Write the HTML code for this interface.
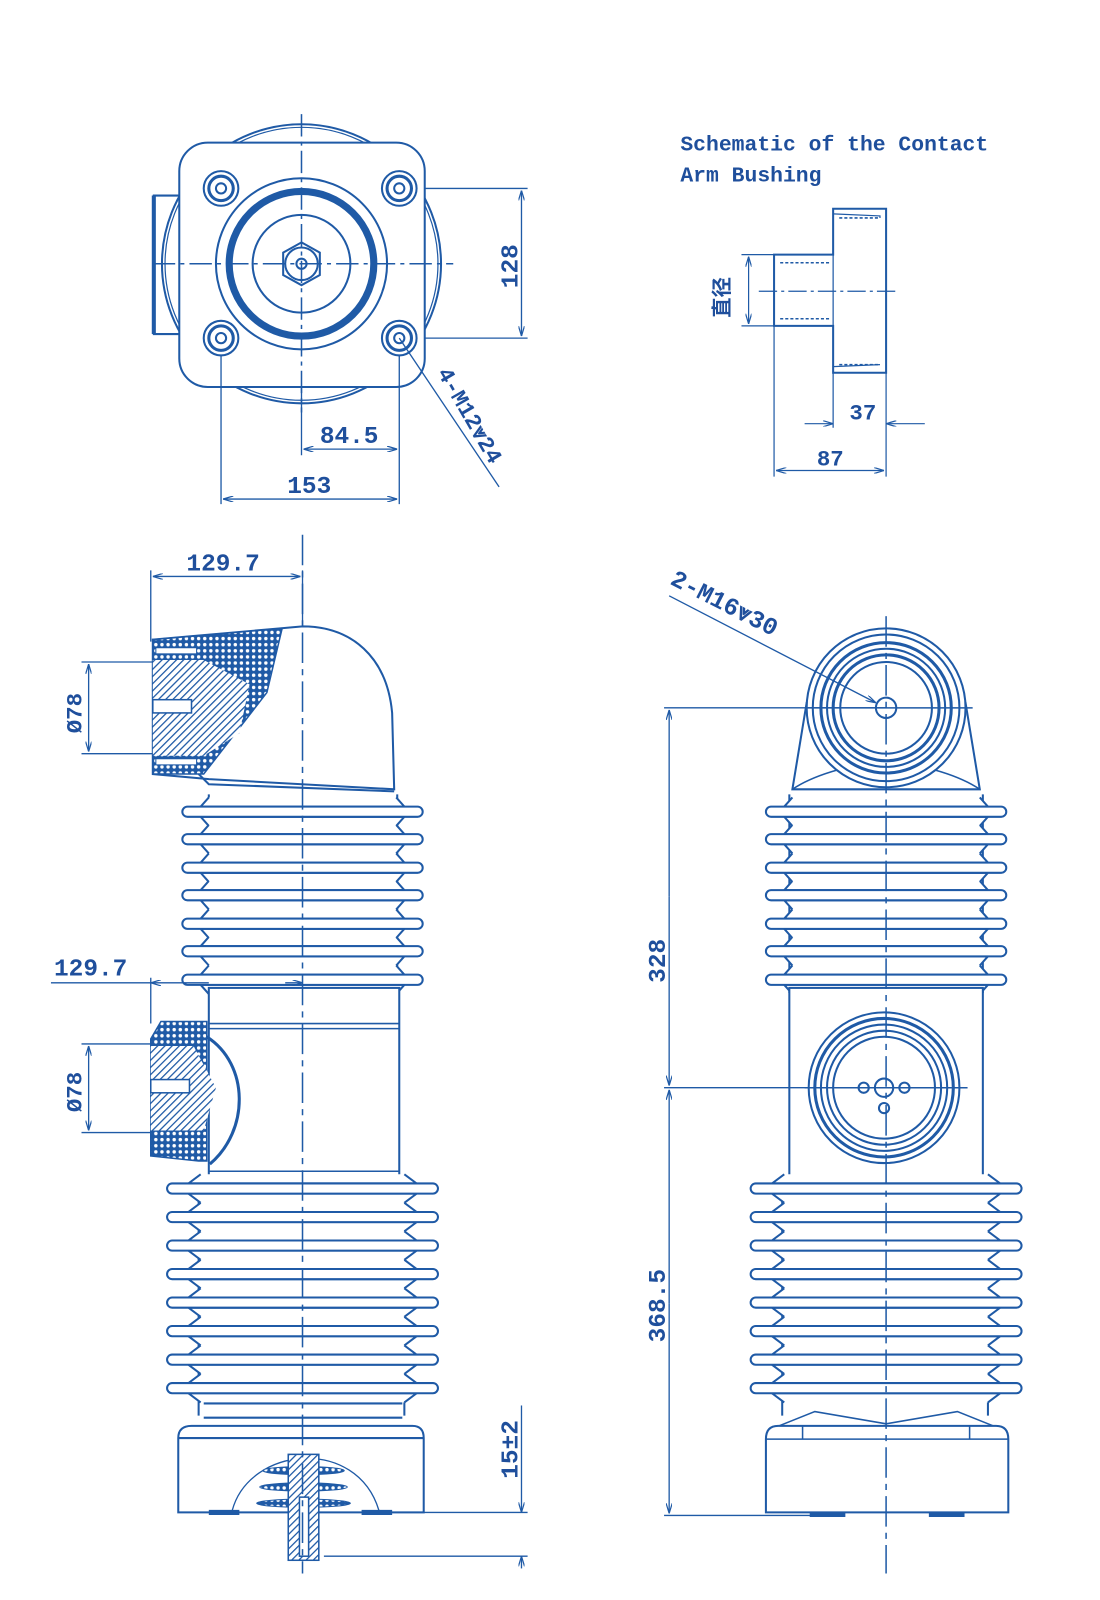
<!DOCTYPE html>
<html><head><meta charset="utf-8"><style>
html,body{margin:0;padding:0;background:#fff;}
svg{display:block}
text{font-family:"Liberation Mono","Liberation Sans",sans-serif;fill:#1f4f9c;font-weight:bold}
</style></head><body>
<svg width="1100" height="1600" viewBox="0 0 1080 1571" xmlns="http://www.w3.org/2000/svg">
<defs>
<pattern id="hat" width="5" height="5" patternUnits="userSpaceOnUse" patternTransform="rotate(45)"><rect width="5" height="5" fill="#fff"/><line x1="0" y1="0" x2="0" y2="5" stroke="#1f5aa6" stroke-width="2.5"/></pattern>
<pattern id="dot" width="6" height="6" patternUnits="userSpaceOnUse"><rect width="6" height="6" fill="#1f5aa6"/><circle cx="3" cy="3" r="1.7" fill="#fff"/></pattern>
<g id="shA" fill="#fff" stroke="#1f5aa6" stroke-width="2">
<path d="M-92,-14 L-100,-5 L100,-5 L92,-14 M-92,14 L-100,5 L100,5 L92,14"/>
<rect x="-118" y="-5" width="236" height="10" rx="5"/>
</g>
<g id="shB" fill="#fff" stroke="#1f5aa6" stroke-width="2">
<path d="M-100,-14 L-112,-5 L112,-5 L100,-14 M-100,14 L-112,5 L112,5 L100,14"/>
<rect x="-133" y="-5" width="266" height="10" rx="5"/>
</g>
<marker id="ar" viewBox="0 0 10 6" refX="10" refY="3" markerWidth="10" markerHeight="6" orient="auto-start-reverse" markerUnits="userSpaceOnUse"><path d="M0,0 L10,3 L0,6" fill="none" stroke="#1f5aa6" stroke-width="1.2"/></marker>
</defs>
<g fill="none" stroke="#1f5aa6" stroke-width="2">

<!-- TOP VIEW -->
<circle cx="296" cy="259" r="137" stroke-width="2"/>
<circle cx="296" cy="259" r="134" stroke-width="1.2"/>
<rect x="176" y="140" width="241" height="240" rx="28" fill="#fff"/>
<path d="M176,192 L151,192 L151,328 L176,328" />
<line x1="151" y1="192" x2="151" y2="328" stroke-width="4"/>
<g>
<circle cx="217" cy="185" r="17"/><circle cx="217" cy="185" r="12" stroke-width="3"/><circle cx="217" cy="185" r="5"/>
<circle cx="392" cy="185" r="17"/><circle cx="392" cy="185" r="12" stroke-width="3"/><circle cx="392" cy="185" r="5"/>
<circle cx="217" cy="332" r="17"/><circle cx="217" cy="332" r="12" stroke-width="3"/><circle cx="217" cy="332" r="5"/>
<circle cx="392" cy="332" r="17"/><circle cx="392" cy="332" r="12" stroke-width="3"/><circle cx="392" cy="332" r="5"/>
</g>
<circle cx="296" cy="259" r="84"/>
<circle cx="296" cy="259" r="71" stroke-width="7"/>
<circle cx="296" cy="259" r="48"/>
<polygon points="296,238 314,248 314,270 296,280 278,270 278,248"/>
<circle cx="296" cy="259" r="16"/><circle cx="296" cy="259" r="5"/>
<path d="M296,112 V405 M150,259 H445" stroke-width="1.5" stroke-dasharray="22,5,4,5"/>
<!-- dims top -->
<path d="M417,185 H518 M417,332 H518" stroke-width="1.3"/>
<line x1="512" y1="187" x2="512" y2="330" stroke-width="1.3" marker-start="url(#ar)" marker-end="url(#ar)"/>
<text x="0" y="0" font-size="24" transform="translate(508,283) rotate(-90)" stroke="none">128</text>
<path d="M217,349 V495 M392,349 V495 M296,380 V447" stroke-width="1.3"/>
<line x1="298" y1="441" x2="390" y2="441" stroke-width="1.3" marker-start="url(#ar)" marker-end="url(#ar)"/>
<text x="314" y="435" font-size="24" stroke="none">84.5</text>
<line x1="219" y1="490" x2="390" y2="490" stroke-width="1.3" marker-start="url(#ar)" marker-end="url(#ar)"/>
<text x="282" y="484" font-size="24" stroke="none">153</text>
<line x1="392" y1="332" x2="490" y2="478" stroke-width="1.3"/>
<text x="0" y="0" font-size="22" transform="translate(429,366) rotate(60)" stroke="none">4-M12⩔24</text>

<!-- SCHEMATIC -->
<text x="668" y="148" font-size="21" stroke="none">Schematic of the Contact</text>
<text x="668" y="178" font-size="21" stroke="none">Arm Bushing</text>
<path d="M818,205 L870,205 L870,366 L818,366 L818,320 L760,320 L760,250 L818,250 Z" fill="#fff"/>
<path d="M824,214 H864 M824,358 H864 M766,258 H815 M766,313 H815" stroke-width="1.5" stroke-dasharray="3,2"/>
<path d="M818,250 V320 M818,210 L864,212 V214 M818,360 L864,358" stroke-width="1.2"/>
<path d="M745,286 H880" stroke-width="1.2" stroke-dasharray="18,4,3,4"/>
<path d="M728,250 H760 M728,320 H760" stroke-width="1.2"/>
<line x1="735" y1="252" x2="735" y2="318" stroke-width="1.2" marker-start="url(#ar)" marker-end="url(#ar)"/>
<text x="0" y="0" font-size="20" transform="translate(716,312) rotate(-90)" stroke="none" style="font-family:'Noto Sans CJK SC',sans-serif">直径</text>
<path d="M818,366 V420 M870,366 V468 M760,320 V468" stroke-width="1.2"/>
<line x1="790" y1="416" x2="818" y2="416" stroke-width="1.2" marker-end="url(#ar)"/>
<line x1="908" y1="416" x2="870" y2="416" stroke-width="1.2" marker-end="url(#ar)"/>
<text x="834" y="412" font-size="22" stroke="none">37</text>
<line x1="762" y1="462" x2="868" y2="462" stroke-width="1.2" marker-start="url(#ar)" marker-end="url(#ar)"/>
<text x="802" y="457" font-size="22" stroke="none">87</text>

<!-- LEFT BUSHING -->
<!-- upper core -->
<path d="M205,780 V975 M390,780 V975"/>
<g>
<use href="#shA" x="297" y="797"/><use href="#shA" x="297" y="824"/><use href="#shA" x="297" y="852"/><use href="#shA" x="297" y="879"/><use href="#shA" x="297" y="907"/><use href="#shA" x="297" y="934"/><use href="#shA" x="297" y="962"/>
</g>
<!-- head -->
<path d="M150,628 L275,617 L297,615 C345,615 380,645 385,700 L387,775 L205,765 L150,760 Z" fill="#fff"/>
<path d="M195,760 L205,770 L387,777" />
<path d="M150,628 L277,617 L262,680 L200,760 L150,760 Z" fill="url(#dot)" stroke-width="1.5"/>
<path d="M150,648 L200,648 L245,672 L235,720 L200,742 L150,742 Z" fill="url(#hat)" stroke="none"/>
<rect x="150" y="687" width="38" height="13" fill="#fff" stroke-width="1.5"/>
<rect x="153" y="636" width="40" height="6" fill="#fff" stroke-width="1"/>
<rect x="153" y="745" width="40" height="6" fill="#fff" stroke-width="1"/>
<!-- middle body -->
<rect x="205" y="970" width="187" height="192" fill="#fff"/>
<path d="M205,1005 H392 M205,1010 H392 M205,1150 H392" stroke-width="1.5"/>
<path d="M203,1018 C245,1045 245,1110 206,1143" stroke-width="3"/>
<path d="M148,1020 L158,1003 L203,1003 L203,1140 L195,1140 L148,1135 Z" fill="url(#dot)" stroke-width="1.5"/>
<path d="M148,1027 L190,1027 L212,1068 L200,1110 L148,1110 Z" fill="url(#hat)" stroke="none"/>
<rect x="148" y="1060" width="38" height="13" fill="#fff" stroke-width="1.5"/>
<!-- lower sheds -->
<path d="M195,1160 V1390 M397,1160 V1390"/>
<g>
<use href="#shB" x="297" y="1167"/><use href="#shB" x="297" y="1195"/><use href="#shB" x="297" y="1223"/><use href="#shB" x="297" y="1251"/><use href="#shB" x="297" y="1279"/><use href="#shB" x="297" y="1307"/><use href="#shB" x="297" y="1335"/><use href="#shB" x="297" y="1363"/>
</g>
<path d="M200,1378 H395 M200,1392 H395"/>
<!-- base -->
<path d="M175,1485 V1412 Q175,1400 188,1400 L405,1400 Q416,1400 416,1412 V1485 Z" fill="#fff"/>
<path d="M175,1412 H416" />
<path d="M228,1483 C245,1420 350,1410 372,1483" stroke-width="1.3"/>
<path d="M205,1485 h30 M355,1485 h30" stroke-width="5"/>
<g fill="url(#dot)" stroke-width="1">
<ellipse cx="298" cy="1444" rx="40" ry="4"/><ellipse cx="298" cy="1460" rx="43" ry="4"/><ellipse cx="298" cy="1476" rx="46" ry="4"/>
</g>
<rect x="283" y="1428" width="30" height="104" fill="url(#hat)" stroke-width="1.5"/>
<rect x="294" y="1470" width="9" height="58" fill="#fff" stroke-width="1.5"/>
<path d="M297,525 V1545" stroke-width="1.5" stroke-dasharray="30,6,6,6"/>
<!-- dims left -->
<path d="M148,560 V630 M297,560 V615" stroke-width="1.3"/>
<line x1="150" y1="566" x2="295" y2="566" stroke-width="1.3" marker-start="url(#ar)" marker-end="url(#ar)"/>
<text x="183" y="560" font-size="24" stroke="none">129.7</text>
<path d="M80,650 H150 M80,740 H150" stroke-width="1.3"/>
<line x1="87" y1="652" x2="87" y2="738" stroke-width="1.3" marker-start="url(#ar)" marker-end="url(#ar)"/>
<text x="0" y="0" font-size="22" transform="translate(80,720) rotate(-90)" stroke="none">Ø78</text>
<path d="M50,965 H150 M148,960 V1005" stroke-width="1.3"/>
<line x1="205" y1="965" x2="148" y2="965" stroke-width="1.3" marker-end="url(#ar)"/>
<line x1="280" y1="965" x2="297" y2="965" stroke-width="1.3" marker-end="url(#ar)"/>
<text x="53" y="958" font-size="24" stroke="none">129.7</text>
<path d="M80,1025 H150 M80,1112 H150" stroke-width="1.3"/>
<line x1="87" y1="1027" x2="87" y2="1110" stroke-width="1.3" marker-start="url(#ar)" marker-end="url(#ar)"/>
<text x="0" y="0" font-size="22" transform="translate(80,1092) rotate(-90)" stroke="none">Ø78</text>
<path d="M385,1485 H518 M318,1528 H518" stroke-width="1.3"/>
<line x1="512" y1="1380" x2="512" y2="1485" stroke-width="1.3" marker-end="url(#ar)"/>
<line x1="512" y1="1540" x2="512" y2="1528" stroke-width="1.3" marker-end="url(#ar)"/>
<text x="0" y="0" font-size="24" transform="translate(508,1452) rotate(-90)" stroke="none">15±2</text>

<!-- RIGHT BUSHING -->
<path d="M778,775 L792,690 L948,690 L962,775 Z" fill="#fff"/>
<path d="M778,775 C800,760 835,752 850,750 M962,775 C940,760 905,752 890,750" stroke-width="1.5"/>
<path d="M775,780 V975 M965,780 V975"/>
<circle cx="870" cy="695" r="78" fill="#fff"/>
<circle cx="870" cy="695" r="72"/>
<circle cx="870" cy="695" r="64" stroke-width="3"/>
<circle cx="870" cy="695" r="58" stroke-width="2"/>
<circle cx="870" cy="695" r="52" stroke-width="3"/>
<circle cx="870" cy="695" r="45"/>
<circle cx="870" cy="695" r="10"/>
<g>
<use href="#shA" x="870" y="797"/><use href="#shA" x="870" y="824"/><use href="#shA" x="870" y="852"/><use href="#shA" x="870" y="879"/><use href="#shA" x="870" y="907"/><use href="#shA" x="870" y="934"/><use href="#shA" x="870" y="962"/>
</g>
<rect x="775" y="970" width="190" height="192" fill="#fff"/>
<circle cx="868" cy="1068" r="74"/>
<circle cx="868" cy="1068" r="68" stroke-width="3"/>
<circle cx="868" cy="1068" r="62"/>
<circle cx="868" cy="1068" r="56" stroke-width="2"/>
<circle cx="868" cy="1068" r="50"/>
<circle cx="868" cy="1068" r="9"/>
<circle cx="848" cy="1068" r="5"/><circle cx="888" cy="1068" r="5"/><circle cx="868" cy="1088" r="5"/>
<path d="M768,1160 V1390 M970,1160 V1390"/>
<g>
<use href="#shB" x="870" y="1167"/><use href="#shB" x="870" y="1195"/><use href="#shB" x="870" y="1223"/><use href="#shB" x="870" y="1251"/><use href="#shB" x="870" y="1279"/><use href="#shB" x="870" y="1307"/><use href="#shB" x="870" y="1335"/><use href="#shB" x="870" y="1363"/>
</g>
<path d="M752,1485 V1413 Q752,1400 764,1400 L978,1400 Q990,1400 990,1413 V1485 Z" fill="#fff"/>
<path d="M752,1413 H990 M765,1400 L800,1386 L870,1398 L940,1386 L975,1400 M788,1413 V1400 M952,1413 V1400" stroke-width="1.5"/>
<path d="M795,1487 h35 M912,1487 h35" stroke-width="5"/>
<path d="M870,605 V1545" stroke-width="1.5" stroke-dasharray="30,6,6,6"/>
<path d="M792,695 H955 M790,1068 H950" stroke-width="1.5"/>
<!-- dims right -->
<path d="M652,695 H870 M652,1068 H800 M652,1488 H800" stroke-width="1.3"/>
<line x1="657" y1="880" x2="657" y2="697" stroke-width="1.3" marker-end="url(#ar)"/>
<line x1="657" y1="880" x2="657" y2="1066" stroke-width="1.3" marker-end="url(#ar)"/>
<line x1="657" y1="1280" x2="657" y2="1070" stroke-width="1.3" marker-end="url(#ar)"/>
<line x1="657" y1="1280" x2="657" y2="1486" stroke-width="1.3" marker-end="url(#ar)"/>
<text x="0" y="0" font-size="24" transform="translate(653,965) rotate(-90)" stroke="none">328</text>
<text x="0" y="0" font-size="24" transform="translate(653,1318) rotate(-90)" stroke="none">368.5</text>
<line x1="657" y1="585" x2="860" y2="690" stroke-width="1.3" marker-end="url(#ar)"/>
<text x="0" y="0" font-size="24" transform="translate(657,573) rotate(27)" stroke="none">2-M16⩔30</text>
</g>
</svg>
</body></html>
